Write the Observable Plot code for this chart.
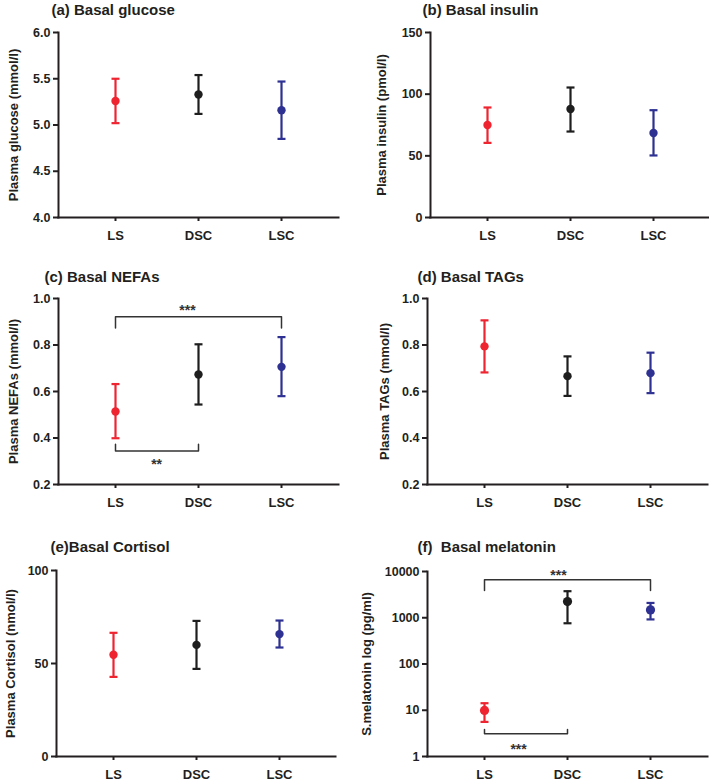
<!DOCTYPE html>
<html>
<head>
<meta charset="utf-8">
<script src="https://cdn.jsdelivr.net/npm/d3@7"></script>
<script src="https://cdn.jsdelivr.net/npm/@observablehq/plot@0.6"></script>
<style>
  html, body { margin: 0; padding: 0; background: #fff; }
  #root { position: relative; width: 709px; height: 782px; overflow: hidden; background: #fff; }
  .panel { position: absolute; }
  .panel svg { display: block; overflow: visible; }
</style>
</head>
<body>
<div id="root"></div>
<script>
// ---- Data ----
const groups = ["LS", "DSC", "LSC"];
const groupColors = ["#ee2431", "#1e1e1e", "#2e3192"];

// (a) glucose (mmol/l)
const glucoseMean = [5.26, 5.33, 5.16];
const glucoseLow  = [5.02, 5.12, 4.85];
const glucoseHigh = [5.50, 5.54, 5.47];
const glucoseTicks = [4.0, 4.5, 5.0, 5.5, 6.0];

// (b) insulin (pmol/l)
const insulinMean = [75, 88, 68.5];
const insulinLow  = [60.5, 69.7, 50.3];
const insulinHigh = [89.2, 105.4, 87.0];
const insulinTicks = [0, 50, 100, 150];

// (c) NEFAs (mmol/l)
const nefaMean = [0.514, 0.673, 0.706];
const nefaLow  = [0.399, 0.544, 0.580];
const nefaHigh = [0.632, 0.803, 0.834];
const nefaTicks = [0.2, 0.4, 0.6, 0.8, 1.0];

// (d) TAGs (mmol/l)
const tagMean = [0.794, 0.666, 0.679];
const tagLow  = [0.682, 0.581, 0.593];
const tagHigh = [0.906, 0.751, 0.767];
const tagTicks = [0.2, 0.4, 0.6, 0.8, 1.0];

// (e) cortisol (nmol/l)
const cortisolMean = [54.7, 60.0, 65.8];
const cortisolLow  = [42.8, 47.1, 58.6];
const cortisolHigh = [66.5, 72.9, 73.1];
const cortisolTicks = [0, 50, 100];

// (f) melatonin (pg/ml, log)
const melatoninMean = [9.9, 2240, 1480];
const melatoninLow  = [5.6, 760, 920];
const melatoninHigh = [14.2, 3750, 2090];
const melatoninTicks = [1, 10, 100, 1000, 10000];

// significance brackets
const nefaBrackets = [
  {from: "LS", to: "LSC", bar: 0.921, end: 0.873, labelY: 0.962, label: "***"},
  {from: "LS", to: "DSC", bar: 0.344, end: 0.373, labelY: 0.300, label: "**"}
];
const melatoninBrackets = [
  {from: "LS", to: "LSC", bar: 6600, end: 3880, labelY: 9500, label: "***"},
  {from: "LS", to: "DSC", bar: 3.09, end: 3.84, labelY: 1.62, label: "***"}
];

// ---- Rendering ----
const FONT = "'Liberation Sans', Arial, Helvetica, sans-serif";
const INK = "#231f20";

// horizontal line symbol for error-bar caps
const capSymbol = {
  draw(context, size) {
    const w = Math.sqrt(size / Math.PI);
    context.moveTo(-w, 0);
    context.lineTo(w, 0);
  }
};

function rows(mean, low, high) {
  return groups.map((g, i) => ({group: g, mean: mean[i], low: low[i], high: high[i]}));
}

function panel(cfg) {
  const data = rows(cfg.mean, cfg.low, cfg.high);
  const W = cfg.w, H = cfg.h;
  const marks = [];
  marks.push(Plot.axisY({ticks: cfg.ticks, tickFormat: cfg.tickFormat, tickSize: 5, tickPadding: 3,
    fontSize: 12.5, fontWeight: "bold", strokeWidth: 2, stroke: INK, fill: INK, label: null}));
  marks.push(Plot.axisX({tickSize: 4, tickPadding: 9, fontSize: 13, fontWeight: "bold",
    strokeWidth: 2, stroke: INK, fill: INK, label: null}));
  marks.push(Plot.frame({anchor: "left", stroke: INK, strokeWidth: 2}));
  marks.push(Plot.frame({anchor: "bottom", stroke: INK, strokeWidth: 2}));
  (cfg.brackets || []).forEach((b, k) => {
    const pts = [
      {x: b.from, y: b.end}, {x: b.from, y: b.bar},
      {x: b.to, y: b.bar}, {x: b.to, y: b.end}
    ];
    marks.push(Plot.line(pts, {x: "x", y: "y", stroke: "#333", strokeWidth: 1.5}));
    const fi = groups.indexOf(b.from), ti = groups.indexOf(b.to);
    marks.push(Plot.text([b], {
      y: "labelY", text: "label",
      frameAnchor: "left", textAnchor: "middle",
      dx: cfg.bracketMid(fi, ti) + (cfg.labelDx ? cfg.labelDx[k] : 0),
      dy: 3,
      fontSize: 14, fontWeight: "bold", fill: "#333", fontFamily: FONT
    }));
  });
  marks.push(Plot.ruleX(data, {x: "group", y1: "low", y2: "high", stroke: "group", strokeWidth: 2.2}));
  marks.push(Plot.dot(data, {x: "group", y: "low", stroke: "group", strokeWidth: 2.2, symbol: capSymbol, r: 4}));
  marks.push(Plot.dot(data, {x: "group", y: "high", stroke: "group", strokeWidth: 2.2, symbol: capSymbol, r: 4}));
  marks.push(Plot.dot(data, {x: "group", y: "mean", fill: "group", r: cfg.r || 4.2}));
  marks.push(Plot.text([cfg.title], {
    frameAnchor: "top-left", textAnchor: "start", lineAnchor: "middle",
    dx: cfg.titleX - cfg.axisX, dy: cfg.titleY - cfg.plotTop,
    fontSize: 15, fontWeight: "bold", fill: INK, fontFamily: FONT
  }));
  marks.push(Plot.text([cfg.ylabel], {
    frameAnchor: "left", textAnchor: "middle", rotate: -90,
    dx: cfg.ylabelX - cfg.axisX,
    fontSize: 13, fontWeight: "bold", fill: INK, fontFamily: FONT
  }));

  const chart = Plot.plot({
    width: W, height: H,
    marginLeft: cfg.axisX, marginRight: W - cfg.right,
    marginTop: cfg.plotTop, marginBottom: H - cfg.plotBottom,
    style: {fontFamily: FONT, color: INK, background: "transparent", overflow: "visible"},
    x: {type: "point", domain: groups, padding: cfg.xpad, axis: null},
    y: Object.assign({domain: cfg.domain, axis: null}, cfg.log ? {type: "log"} : {}),
    color: {domain: groups, range: groupColors},
    marks
  });
  const div = document.createElement("div");
  div.className = "panel";
  div.style.left = cfg.left + "px";
  div.style.top = cfg.top + "px";
  div.appendChild(chart);
  document.getElementById("root").appendChild(div);
}

function mid(axisX, right, xpad) {
  return (fi, ti) => {
    const innerW = right - axisX;
    const step = innerW / (groups.length - 1 + 2 * xpad);
    const p = i => step * (xpad + i);
    return (p(fi) + p(ti)) / 2;
  };
}

const XPAD = 0.67;
const fmt1 = d3.format(".1f");

panel({left: 0, top: 0, w: 354, h: 260, axisX: 58, right: 338, plotTop: 32, plotBottom: 217, xpad: XPAD,
  title: "(a) Basal glucose", titleX: 51, titleY: 10, ylabel: "Plasma glucose (mmol/l)", ylabelX: 13,
  domain: [4, 6], ticks: glucoseTicks, tickFormat: fmt1,
  mean: glucoseMean, low: glucoseLow, high: glucoseHigh});

panel({left: 354, top: 0, w: 355, h: 260, axisX: 76, right: 355, plotTop: 32, plotBottom: 217, xpad: XPAD,
  title: "(b) Basal insulin", titleX: 68, titleY: 10, ylabel: "Plasma insulin (pmol/l)", ylabelX: 27,
  domain: [0, 150], ticks: insulinTicks, tickFormat: d3.format("d"),
  mean: insulinMean, low: insulinLow, high: insulinHigh});

panel({left: 0, top: 260, w: 354, h: 260, axisX: 58, right: 338, plotTop: 38, plotBottom: 224, xpad: XPAD,
  title: "(c) Basal NEFAs", titleX: 44, titleY: 17, ylabel: "Plasma NEFAs (mmol/l)", ylabelX: 13,
  domain: [0.2, 1.0], ticks: nefaTicks, tickFormat: fmt1,
  mean: nefaMean, low: nefaLow, high: nefaHigh,
  brackets: nefaBrackets, bracketMid: mid(58, 338, XPAD), labelDx: [-11, 0]});

panel({left: 354, top: 260, w: 355, h: 260, axisX: 73, right: 353, plotTop: 38, plotBottom: 224, xpad: XPAD,
  title: "(d) Basal TAGs", titleX: 63, titleY: 17, ylabel: "Plasma TAGs (mmol/l)", ylabelX: 30,
  domain: [0.2, 1.0], ticks: tagTicks, tickFormat: fmt1,
  mean: tagMean, low: tagLow, high: tagHigh});

panel({left: 0, top: 520, w: 354, h: 262, axisX: 56, right: 335, plotTop: 50, plotBottom: 236, xpad: XPAD,
  title: "(e)Basal Cortisol", titleX: 50, titleY: 27, ylabel: "Plasma Cortisol (nmol/l)", ylabelX: 10,
  domain: [0, 100], ticks: cortisolTicks, tickFormat: d3.format("d"),
  mean: cortisolMean, low: cortisolLow, high: cortisolHigh});

panel({left: 354, top: 520, w: 355, h: 262, axisX: 73, right: 353, plotTop: 51, plotBottom: 236, xpad: XPAD,
  title: "(f)  Basal melatonin", titleX: 63, titleY: 27, ylabel: "S.melatonin log (pg/ml)", ylabelX: 12,
  domain: [1, 10000], ticks: melatoninTicks, tickFormat: d3.format("d"), log: true,
  mean: melatoninMean, low: melatoninLow, high: melatoninHigh,
  brackets: melatoninBrackets, bracketMid: mid(73, 353, XPAD), labelDx: [-9, -7], r: 4.6});
</script>
</body>
</html>
